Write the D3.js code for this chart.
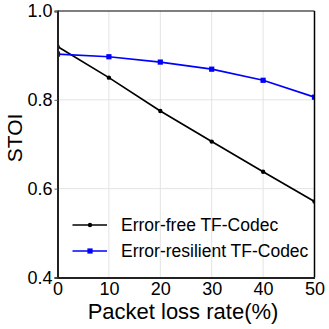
<!DOCTYPE html>
<html>
<head>
<meta charset="utf-8">
<script src="https://cdn.jsdelivr.net/npm/d3@7/dist/d3.min.js"></script>
<style>
  html, body { margin: 0; padding: 0; background: #fff; }
  text { font-family: "Liberation Sans", Arial, sans-serif; }
</style>
</head>
<body>
<svg id="chart" width="329" height="329"></svg>
<script>
const lossRates = [0, 10, 20, 30, 40, 50];
const errorFree = [0.920, 0.850, 0.775, 0.706, 0.638, 0.571];
const errorResilient = [0.903, 0.897, 0.885, 0.869, 0.844, 0.806];
const seriesNames = ["Error-free TF-Codec", "Error-resilient TF-Codec"];
const xTicks = [0, 10, 20, 30, 40, 50];
const yTicks = [0.4, 0.6, 0.8, 1.0];

const svg = d3.select("#chart");
const L = 57.5, R = 314.5, T = 11, B = 277.5;
const x = d3.scaleLinear().domain([0, 50]).range([L, R]);
const y = d3.scaleLinear().domain([0.4, 1.0]).range([B, T]);

svg.append("rect").attr("width", 329).attr("height", 329).attr("fill", "#fff");

// grid
svg.append("g").selectAll("line").data(xTicks.slice(1, -1)).join("line")
  .attr("x1", d => x(d)).attr("x2", d => x(d)).attr("y1", T).attr("y2", B)
  .attr("stroke", "#e3e3e3").attr("stroke-width", 1);
svg.append("g").selectAll("line").data(yTicks.slice(1, -1)).join("line")
  .attr("y1", d => y(d)).attr("y2", d => y(d)).attr("x1", L).attr("x2", R)
  .attr("stroke", "#e3e3e3").attr("stroke-width", 1);

// clip
svg.append("clipPath").attr("id", "clip").append("rect")
  .attr("x", L).attr("y", T).attr("width", R - L).attr("height", B - T);

const plot = svg.append("g").attr("clip-path", "url(#clip)");
const line = d3.line().x((d, i) => x(lossRates[i])).y(d => y(d));

plot.append("path").datum(errorFree).attr("d", line)
  .attr("fill", "none").attr("stroke", "#000").attr("stroke-width", 1.7);
plot.append("path").datum(errorResilient).attr("d", line)
  .attr("fill", "none").attr("stroke", "#0000ff").attr("stroke-width", 1.7);

plot.selectAll("circle.m").data(errorFree).join("circle").attr("class", "m")
  .attr("cx", (d, i) => x(lossRates[i])).attr("cy", d => y(d)).attr("r", 2.2).attr("fill", "#000");
plot.selectAll("rect.m").data(errorResilient).join("rect").attr("class", "m")
  .attr("x", (d, i) => x(lossRates[i]) - 2.6).attr("y", d => y(d) - 2.6)
  .attr("width", 5.2).attr("height", 5.2).attr("fill", "#0000ff");

// frame
svg.append("line").attr("x1", L).attr("x2", R).attr("y1", T).attr("y2", T).attr("stroke", "#000").attr("stroke-width", 1.2);
svg.append("line").attr("x1", R).attr("x2", R).attr("y1", T).attr("y2", B).attr("stroke", "#000").attr("stroke-width", 1.5);

// axes
const xAxis = svg.append("g").attr("transform", `translate(0,${B})`)
  .call(d3.axisBottom(x).tickValues(xTicks).tickSize(0).tickPadding(5).tickFormat(d3.format("d")));
xAxis.select(".domain").attr("stroke", "#222").attr("stroke-width", 2);
xAxis.selectAll("text").attr("font-size", 18).attr("fill", "#000")
  .attr("font-family", "Liberation Sans, Arial, sans-serif");

const yAxis = svg.append("g").attr("transform", `translate(${L},0)`)
  .call(d3.axisLeft(y).tickValues(yTicks).tickSize(3).tickPadding(2).tickFormat(d3.format(".1f")));
yAxis.select(".domain").attr("stroke", "#222").attr("stroke-width", 2);
yAxis.selectAll(".tick line").attr("stroke", "#666");
yAxis.selectAll("text").attr("font-size", 18).attr("fill", "#000")
  .attr("font-family", "Liberation Sans, Arial, sans-serif");

// titles
svg.append("text").attr("x", 183).attr("y", 319).attr("text-anchor", "middle")
  .attr("font-size", 22).attr("fill", "#000").text("Packet loss rate(%)");
svg.append("text").attr("transform", "translate(22,138) rotate(-90)").attr("text-anchor", "middle")
  .attr("font-size", 21).attr("fill", "#000").text("STOI");

// legend
const legend = svg.append("g");
const legendRows = [
  { name: seriesNames[0], color: "#000", marker: "circle", ly: 225 },
  { name: seriesNames[1], color: "#0000ff", marker: "rect", ly: 251 }
];
legendRows.forEach(r => {
  legend.append("line").attr("x1", 72.5).attr("x2", 107).attr("y1", r.ly).attr("y2", r.ly)
    .attr("stroke", r.color).attr("stroke-width", 1.7);
  if (r.marker === "circle") {
    legend.append("circle").attr("cx", 90).attr("cy", r.ly).attr("r", 2.2).attr("fill", r.color);
  } else {
    legend.append("rect").attr("x", 87.4).attr("y", r.ly - 2.6).attr("width", 5.2).attr("height", 5.2).attr("fill", r.color);
  }
  legend.append("text").attr("x", 121).attr("y", r.ly + 6.3).attr("font-size", 17.5).attr("fill", "#000").text(r.name);
});
</script>
</body>
</html>
